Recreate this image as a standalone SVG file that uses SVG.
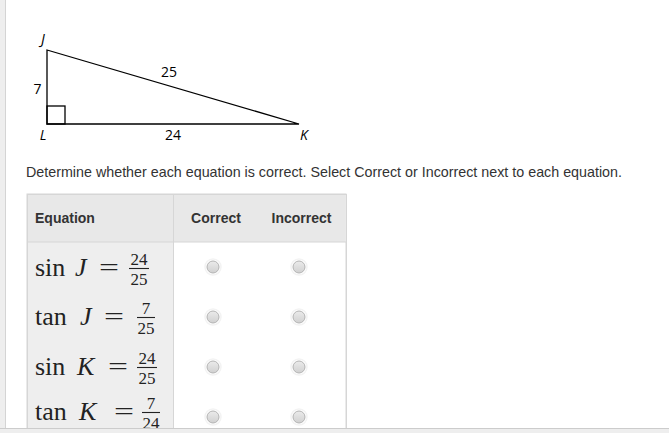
<svg xmlns="http://www.w3.org/2000/svg" width="669" height="433" viewBox="0 0 669 433">
<defs>
<linearGradient id="rg" x1="0" y1="0" x2="0" y2="1"><stop offset="0" stop-color="#ebebeb"/><stop offset="1" stop-color="#d0d0d0"/></linearGradient>
<g id="radio"><circle r="8" fill="none" stroke="#f3f3f3" stroke-width="1.5"/><circle r="6" fill="url(#rg)" stroke="#b3b3b3" stroke-width="1"/></g>
</defs>
<style>
.lbl{font-family:"Open Sans","Liberation Sans",sans-serif;font-size:14px;fill:#000;text-anchor:middle}
.it{font-style:italic}
.ui{font-family:"Liberation Sans",Arial,sans-serif;fill:#333}
.hd{font-size:14px;font-weight:bold}
.m{font-family:"Liberation Serif","Times New Roman",serif;font-size:26px;fill:#222}
.mi{font-style:italic}
.f{font-family:"Liberation Serif","Times New Roman",serif;font-size:17px;fill:#222;text-anchor:middle}
.bar{stroke:#222;stroke-width:1.1}
</style>
<rect width="669" height="433" fill="#fff"/>
<rect x="0" y="0" width="5" height="433" fill="#eeeeee"/>
<line x1="5.5" y1="0" x2="5.5" y2="433" stroke="#d4d4d4"/>

<g id="triangle">
<polygon points="47,50 47,124 299,124" fill="none" stroke="#000" stroke-width="1.3"/>
<rect x="47" y="106" width="18" height="18" fill="none" stroke="#000" stroke-width="1.3"/>
<text class="lbl it" x="43" y="44">J</text>
<text class="lbl" x="37.5" y="94">7</text>
<text class="lbl" x="169" y="76.5">25</text>
<text class="lbl it" x="43" y="140">L</text>
<text class="lbl" x="173" y="140">24</text>
<text class="lbl it" x="304" y="140">K</text>
</g>

<text class="ui" x="26" y="177" font-size="14.2" textLength="596" lengthAdjust="spacingAndGlyphs">Determine whether each equation is correct. Select Correct or Incorrect next to each equation.</text>

<g id="table">
<rect x="27" y="194" width="319" height="240" fill="#fff" stroke="#d6d6d6"/>
<rect x="27.5" y="194.5" width="318" height="47.5" fill="#e8e8e8"/>
<rect x="27.5" y="242" width="145.5" height="192" fill="#eeeeee"/>
<line x1="27" y1="242" x2="346" y2="242" stroke="#d6d6d6"/>
<line x1="173.5" y1="194" x2="173.5" y2="433" stroke="#d6d6d6"/>
<line x1="27" y1="194.5" x2="346" y2="194.5" stroke="#d6d6d6"/>
<line x1="27.5" y1="194" x2="27.5" y2="433" stroke="#d6d6d6"/>
<line x1="346.5" y1="194" x2="346.5" y2="433" stroke="#d6d6d6"/>
<text class="ui hd" x="35" y="223">Equation</text>
<text class="ui hd" x="216" y="223" text-anchor="middle">Correct</text>
<text class="ui hd" x="301.5" y="223" text-anchor="middle">Incorrect</text>
</g>

<g id="row1">
<text class="m" x="35" y="276">sin</text>
<text class="m mi" x="75" y="276">J</text>
<text class="m" x="99" y="276" textLength="20" lengthAdjust="spacingAndGlyphs">=</text>
<text class="f" x="139" y="264.5">24</text>
<line class="bar" x1="129" y1="268.5" x2="149" y2="268.5"/>
<text class="f" x="139" y="284.5">25</text>
<use href="#radio" x="213" y="267"/>
<use href="#radio" x="299" y="267"/>
</g>

<g id="row2">
<text class="m" x="35" y="325">tan</text>
<text class="m mi" x="80" y="325">J</text>
<text class="m" x="104" y="325" textLength="20" lengthAdjust="spacingAndGlyphs">=</text>
<text class="f" x="146" y="313.5">7</text>
<line class="bar" x1="137" y1="317.5" x2="155" y2="317.5"/>
<text class="f" x="146" y="333.5">25</text>
<use href="#radio" x="213" y="317"/>
<use href="#radio" x="299" y="317"/>
</g>

<g id="row3">
<text class="m" x="35" y="375">sin</text>
<text class="m mi" x="77" y="375">K</text>
<text class="m" x="108" y="375" textLength="20" lengthAdjust="spacingAndGlyphs">=</text>
<text class="f" x="147" y="363.5">24</text>
<line class="bar" x1="137" y1="367.5" x2="157" y2="367.5"/>
<text class="f" x="147" y="383.5">25</text>
<use href="#radio" x="213" y="367"/>
<use href="#radio" x="299" y="367"/>
</g>

<g id="row4">
<text class="m" x="35" y="420">tan</text>
<text class="m mi" x="79" y="420">K</text>
<text class="m" x="114" y="420" textLength="20" lengthAdjust="spacingAndGlyphs">=</text>
<text class="f" x="151" y="408.5">7</text>
<line class="bar" x1="142" y1="412.5" x2="160" y2="412.5"/>
<text class="f" x="151" y="428.5">24</text>
<use href="#radio" x="213" y="417"/>
<use href="#radio" x="299" y="417"/>
</g>

<rect x="0" y="428" width="669" height="5" fill="#eeeeee"/>
<line x1="0" y1="428.5" x2="669" y2="428.5" stroke="#cccccc"/>
</svg>
